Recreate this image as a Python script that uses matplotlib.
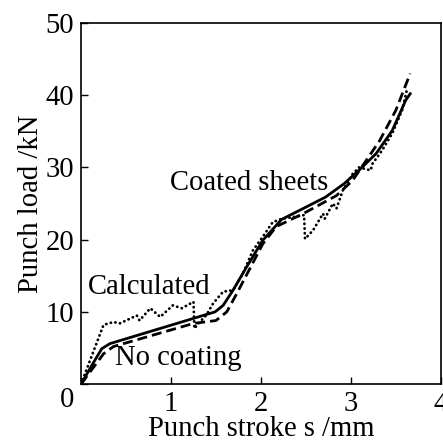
import numpy as np
import matplotlib.pyplot as plt

plt.rcParams['font.family'] = ['Liberation Serif', 'DejaVu Serif']

# coated sheets (solid)
coated_x = [0.0, 0.12, 0.23, 0.32, 1.49, 1.58, 1.69, 1.84, 2.02, 2.23, 2.50, 2.72,
            2.93, 3.09, 3.28, 3.46, 3.61, 3.66]
coated_y = [0.0, 2.6, 4.9, 5.6, 10.0, 10.9, 13.0, 16.2, 19.9, 22.8, 24.5, 25.9,
            27.8, 29.6, 31.9, 35.1, 39.3, 40.2]

# no coating (dashed)
nocoat_x = [0.0, 0.25, 0.36, 1.25, 1.50, 1.62, 1.73, 2.02, 2.17, 2.47, 2.84, 3.02,
            3.32, 3.50, 3.66]
nocoat_y = [0.0, 4.2, 5.2, 8.4, 8.8, 10.0, 12.5, 19.4, 21.8, 23.6, 26.1, 28.2,
            33.7, 37.9, 43.0]

# calculated (dotted)
calc_x = [0.0, 0.10, 0.25, 0.36, 0.43, 0.62, 0.65, 0.77, 0.88, 1.02, 1.12, 1.25,
          1.26, 1.32, 1.39, 1.47, 1.58, 1.69, 1.80, 1.91, 2.02, 2.13, 2.23, 2.35,
          2.48, 2.49, 2.58, 2.69, 2.71, 2.80, 2.84, 2.91, 3.02, 3.09, 3.22, 3.24,
          3.35, 3.46, 3.57, 3.63]
calc_y = [0.0, 3.3, 8.2, 8.6, 8.4, 9.5, 8.8, 10.5, 9.3, 10.9, 10.5, 11.4,
          7.7, 8.6, 9.5, 11.2, 12.8, 13.0, 15.3, 18.5, 20.4, 22.4, 22.9, 23.1,
          23.4, 20.1, 21.3, 23.6, 22.9, 25.0, 24.3, 26.8, 29.1, 30.0, 29.6, 30.5,
          32.4, 34.7, 37.9, 41.1]

fs = 20.6

fig = plt.figure(figsize=(4.43, 4.41), dpi=100)
ax = fig.add_axes([0.183, 0.129, 0.812, 0.819])

ax.plot(coated_x, coated_y, 'k-', lw=2.0)
ax.plot(nocoat_x, nocoat_y, 'k--', lw=2.0, dashes=(3.6, 1.8))
ax.plot(calc_x, calc_y, 'k:', lw=2.0, dashes=(0.1, 1.6), dash_capstyle='round')

ax.set_xlim(0, 4)
ax.set_ylim(0, 50)
ax.set_xticks([0, 1, 2, 3, 4])
ax.set_xticklabels(['', '1', '2', '3', '4'])
ax.set_yticks([0, 10, 20, 30, 40, 50])
ax.set_yticklabels(['', '10', '20', '30', '40', '50'])
ax.tick_params(direction='in', length=5, width=1, labelsize=fs)
ax.tick_params(axis='y', pad=5)
ax.tick_params(axis='x', pad=5)
for s in ax.spines.values():
    s.set_linewidth(1.2)

# single origin label at the corner
ax.annotate('0', xy=(0, 0), xytext=(-14, -16), textcoords='offset pixels',
            fontsize=fs, ha='center', va='center', annotation_clip=False)

ax.set_xlabel('Punch stroke s /mm', fontsize=fs, labelpad=-1)
ax.set_ylabel('Punch load /kN', fontsize=fs, labelpad=1)

ax.text(0.99, 27.8, 'Coated sheets', fontsize=fs, ha='left', va='center')
ax.text(0.08, 13.4, 'Calculated', fontsize=fs, ha='left', va='center')
ax.text(0.38, 3.6, 'No coating', fontsize=fs, ha='left', va='center')

fig.savefig('out.png', dpi=100)
